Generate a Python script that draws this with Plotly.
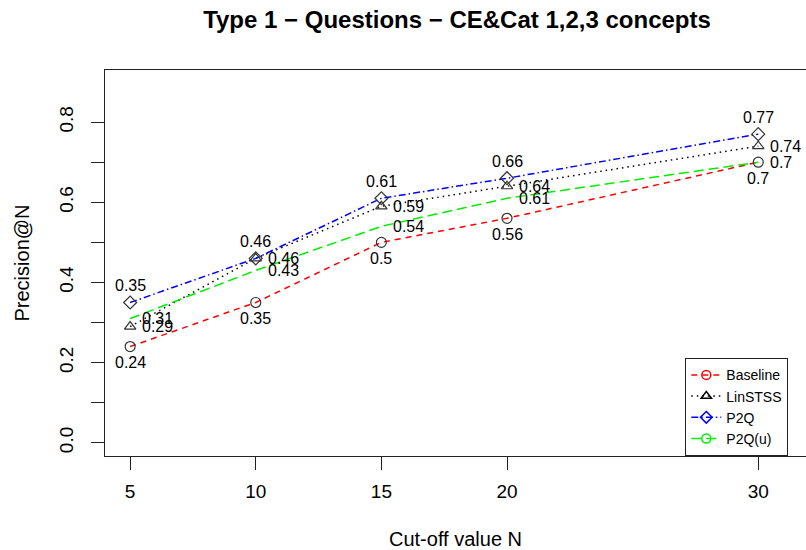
import plotly.graph_objects as go

cutoffs = [5, 10, 15, 20, 30]
baseline = [0.24, 0.35, 0.50, 0.56, 0.70]
linstss = [0.29, 0.46, 0.59, 0.64, 0.74]
p2q = [0.35, 0.46, 0.61, 0.66, 0.77]
p2q_u = [0.31, 0.43, 0.54, 0.61, 0.70]

series_names = ["Baseline", "LinSTSS", "P2Q", "P2Q(u)"]
series_values = [baseline, linstss, p2q, p2q_u]
colors = ["#FF0000", "#000000", "#0000FF", "#00EE00"]
dashes = ["6px,5px", "1.5px,4px", "7px,3px,1.5px,3px", "10px,5px"]
symbols = ["circle-open", "triangle-up-open", "diamond-open", "circle-open"]
plot_markers = [True, True, True, False]
# label placement: (xanchor, yanchor, xshift, yshift)
label_pos = [("center", "middle", 0, -16),
             ("left", "middle", 10, 0),
             ("center", "middle", 0, 17),
             ("left", "middle", 10, 0)]

FONT = "Liberation Sans, Arial, sans-serif"
fig = go.Figure()

for name, vals, col, dash in zip(series_names, series_values, colors, dashes):
    fig.add_trace(go.Scatter(x=cutoffs, y=vals, mode="lines", name=name,
                             line=dict(color=col, width=1.5, dash=dash),
                             showlegend=False, hoverinfo="skip"))

for name, vals, sym, show in zip(series_names, series_values, symbols, plot_markers):
    if show:
        fig.add_trace(go.Scatter(x=cutoffs, y=vals, mode="markers", name=name,
                                 marker=dict(symbol=sym, size=10, color="#333333",
                                             line=dict(width=1.2, color="#333333")),
                                 showlegend=False))

# legend entries
for name, col, dash, sym in zip(series_names, colors, dashes, symbols):
    fig.add_trace(go.Scatter(x=[None], y=[None], mode="lines+markers", name=name,
                             line=dict(color=col, width=1.5, dash=dash),
                             marker=dict(symbol=sym, size=9, color=col,
                                         line=dict(width=1.5, color=col)),
                             showlegend=True))

annotations = []
for vals, (xa, ya, xs, ys) in zip(series_values, label_pos):
    for xv, yv in zip(cutoffs, vals):
        annotations.append(dict(x=xv, y=yv, xref="x", yref="y", text=f"{yv:g}",
                                showarrow=False, xanchor=xa, yanchor=ya,
                                xshift=xs, yshift=ys,
                                font=dict(family=FONT, size=16, color="black")))

yt = [round(i * 0.1, 1) for i in range(9)]
ytext = [f"{v:.1f}" if i % 2 == 0 else "" for i, v in enumerate(yt)]

fig.update_layout(
    width=806, height=550,
    margin=dict(l=105, r=0, t=70, b=94),
    paper_bgcolor="white", plot_bgcolor="white",
    title=dict(text="<b>Type 1 \u2212 Questions \u2212 CE&Cat 1,2,3 concepts</b>",
               x=457 / 806, xanchor="center", y=1 - 20 / 550, yanchor="middle",
               font=dict(family=FONT, size=24, color="black")),
    font=dict(family=FONT, color="black"),
    xaxis=dict(range=[4, 31.9], tickvals=cutoffs, ticktext=[str(c) for c in cutoffs],
               ticks="outside", ticklen=13, tickwidth=1.3, tickcolor="#222",
               showline=True, linecolor="#222", linewidth=1.3, mirror=True,
               showgrid=False, zeroline=False, ticklabelstandoff=5,
               tickfont=dict(family=FONT, size=19),
               title=dict(text="Cut-off value N", standoff=32,
                          font=dict(family=FONT, size=20))),
    yaxis=dict(range=[-0.033, 0.93], tickvals=yt, ticktext=ytext,
               ticks="outside", ticklen=13, tickwidth=1.3, tickcolor="#222",
               showline=True, linecolor="#222", linewidth=1.3, mirror=False,
               showgrid=False, zeroline=False, tickangle=-90, ticklabelstandoff=10,
               tickfont=dict(family=FONT, size=19),
               title=dict(text="Precision@N", standoff=21,
                          font=dict(family=FONT, size=20))),
    legend=dict(x=(685 - 105) / 701, xanchor="left", y=0, yanchor="bottom",
                bordercolor="#222", borderwidth=1.3, bgcolor="white",
                font=dict(family=FONT, size=14), tracegroupgap=0,
                itemwidth=30),
    annotations=annotations,
)

fig.write_html("out.html", config={"displayModeBar": False},
               post_script="document.body.style.margin='0';")
